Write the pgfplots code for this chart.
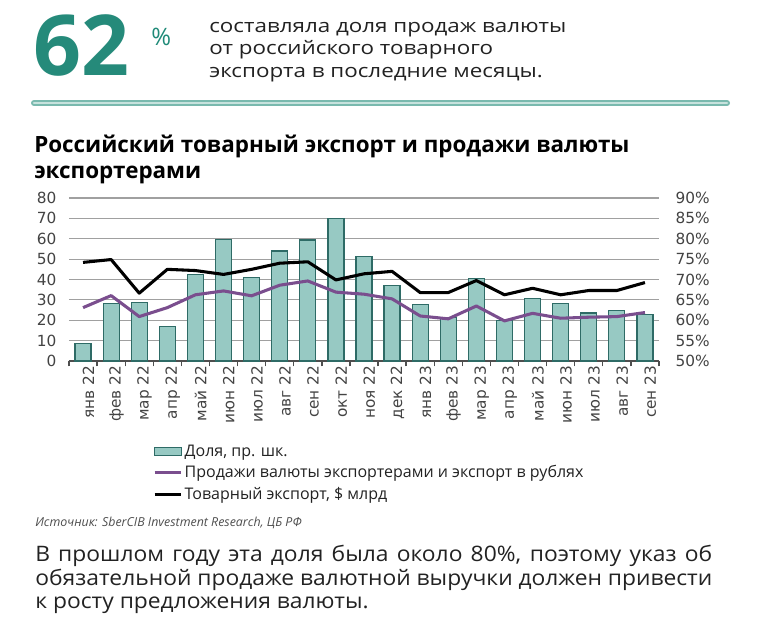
\documentclass[border=0pt]{standalone}
\usepackage{pgfplots}
\pgfplotsset{compat=1.18}
\usepackage{fontspec}
\setmainfont{Open Sans}
\newfontfamily\tickfont{DejaVu Sans}
\newfontfamily\widefont[FakeStretch=1.2]{Open Sans}
\newfontfamily\botfont[FakeStretch=1.07]{Open Sans}
\definecolor{teal62}{HTML}{1F8A78}
\definecolor{bigteal}{HTML}{258A7A}
\definecolor{barfill}{HTML}{97C9C3}
\definecolor{baredge}{HTML}{2E6B66}
\definecolor{purp}{HTML}{7A4E8E}
\definecolor{gridc}{HTML}{A0A0A0}
\definecolor{txt}{HTML}{222222}
\pgfplotsset{lineleg/.style={legend image code/.code={\draw[##1] (0cm,0cm) -- (0.7cm,0cm);}}}
\newcommand\bigfont{\fontsize{63}{63}\selectfont\bfseries}
\begin{document}
\begin{tikzpicture}[x=0.75pt,y=-0.75pt]
\path[use as bounding box] (0,0) rectangle (758,619);
% header
\node[anchor=base west, inner sep=0, font=\bigfont, text=bigteal] at (33,75) {62};
\node[anchor=base west, inner sep=0, text=teal62, font=\fontsize{18}{18}\selectfont] at (151,45) {\%};
\node[anchor=base west, inner sep=0, text=txt, font=\widefont\fontsize{14}{17}\selectfont] at (209,32) {составляла доля продаж валюты};
\node[anchor=base west, inner sep=0, text=txt, font=\widefont\fontsize{14}{17}\selectfont] at (209,54.5) {от российского товарного};
\node[anchor=base west, inner sep=0, text=txt, font=\widefont\fontsize{14}{17}\selectfont] at (209,77) {экспорта в последние месяцы.};
\draw[line width=4.5pt, color=teal62!60, line cap=round] (34,103) -- (727,103);
\draw[line width=2pt, color=teal62!25, line cap=round] (34,103) -- (727,103);
% title
\node[anchor=base west, inner sep=0, text=black, font=\fontsize{16.8}{20}\selectfont\bfseries] at (34,152) {Российский товарный экспорт и продажи валюты};
\node[anchor=base west, inner sep=0, text=black, font=\fontsize{16.8}{20}\selectfont\bfseries] at (34,178) {экспортерами};
% source
\node[anchor=base west, inner sep=0, text=txt!80, font=\fontsize{9.3}{11}\selectfont\itshape] at (35,526) {Источник: SberCIB Investment Research, ЦБ РФ};
% bottom text
\node[anchor=base west, inner sep=0, text=txt, font=\botfont\fontsize{16}{19}\selectfont] at (35,561) {\makebox[507.75pt][s]{В прошлом году эта доля была около 80\%, поэтому указ об}};
\node[anchor=base west, inner sep=0, text=txt, font=\botfont\fontsize{16}{19}\selectfont] at (35,585) {\makebox[507.75pt][s]{обязательной продаже валютной выручки должен привести}};
\node[anchor=base west, inner sep=0, text=txt, font=\botfont\fontsize{16}{19}\selectfont] at (35,608) {к росту предложения валюты.};

% bars axis (right scale)
\begin{axis}[at={(51.75pt,-270.75pt)}, anchor=south west,
  width=442.5pt, height=122.25pt, scale only axis,
  xmin=-0.5, xmax=20.5, ymin=50, ymax=90,
  axis y line*=right, axis x line*=bottom,
  axis line style={-},
  ytick={50,55,...,90},
  yticklabel={\pgfmathprintnumber{\tick}\%},
  /pgf/number format/assume math mode=true,
  y tick label style={font=\tickfont\fontsize{11.5}{13}\selectfont, text=txt!85, xshift=9pt},
  ymajorgrids, grid style={gridc, line width=0.9pt},
  y axis line style={draw=none},
  xtick={0,...,20},
  xticklabels={янв 22,фев 22,мар 22,апр 22,май 22,июн 22,июл 22,авг 22,сен 22,окт 22,ноя 22,дек 22,янв 23,фев 23,мар 23,апр 23,май 23,июн 23,июл 23,авг 23,сен 23},
  x tick label style={rotate=90, anchor=east, font=\tickfont\fontsize{11.5}{13}\selectfont, text=txt!85, yshift=-4pt},
  major tick length=0pt,
  minor xtick={-0.5,0.5,...,20.5},
  minor tick length=4pt,
  tick align=outside,
  minor tick style={line width=1pt, color=txt!80},
  x axis line style={line width=1pt, color=txt!80},
  ybar, bar width=12pt,
]
\addplot[fill=barfill, draw=baredge, line width=0.9pt] coordinates {
(0,54.3) (1,64.2) (2,64.4) (3,58.5) (4,71.3) (5,79.9) (6,70.5) (7,77.0) (8,79.7) (9,85.0) (10,75.7)
(11,68.6) (12,63.9) (13,60.7) (14,70.2) (15,60.0) (16,65.4) (17,64.2) (18,61.8) (19,62.4) (20,61.5)};
\end{axis}

% lines axis (left scale)
\begin{axis}[at={(51.75pt,-270.75pt)}, anchor=south west,
  width=442.5pt, height=122.25pt, scale only axis,
  xmin=-0.5, xmax=20.5, ymin=0, ymax=80,
  axis y line*=left, hide x axis,
  axis line style={-},
  y axis line style={draw=none},
  ytick={0,10,...,80},
  major tick length=0pt,
  /pgf/number format/assume math mode=true,
  y tick label style={font=\tickfont\fontsize{11.5}{13}\selectfont, text=txt!85, xshift=-6pt},
  legend style={at={(axis description cs:0.142,-0.5)}, anchor=north west, draw=none, fill=none,
    font=\fontsize{12}{14}\selectfont, text=txt, row sep=2.5pt, inner sep=0pt,
    nodes={inner sep=1.5pt}},
  legend cell align=left,
]
\addlegendimage{legend image code/.code={\draw[fill=barfill, draw=baredge, line width=0.8pt] (0cm,-0.11cm) rectangle (0.7cm,0.11cm);}}
\addlegendentry{Доля, пр. шк.}
\addplot[color=purp, line width=2.3pt, line join=round, lineleg] coordinates {
(0,26.2) (1,32.1) (2,21.8) (3,26.2) (4,32.5) (5,34.4) (6,32.0) (7,37.2) (8,39.3) (9,33.8) (10,32.8)
(11,30.5) (12,22.1) (13,20.7) (14,27.0) (15,19.7) (16,23.4) (17,21.0) (18,21.5) (19,21.8) (20,23.8)};
\addlegendentry{Продажи валюты экспортерами и экспорт в рублях}
\addplot[color=black, line width=2.3pt, line join=round, lineleg] coordinates {
(0,48.4) (1,49.8) (2,33.3) (3,45.0) (4,44.4) (5,42.5) (6,45.0) (7,48.0) (8,48.7) (9,39.8) (10,42.8)
(11,44.0) (12,33.6) (13,33.6) (14,39.5) (15,32.5) (16,35.7) (17,32.5) (18,34.6) (19,34.6) (20,38.5)};
\addlegendentry{Товарный экспорт, \$ млрд}
\end{axis}
\end{tikzpicture}
\end{document}
